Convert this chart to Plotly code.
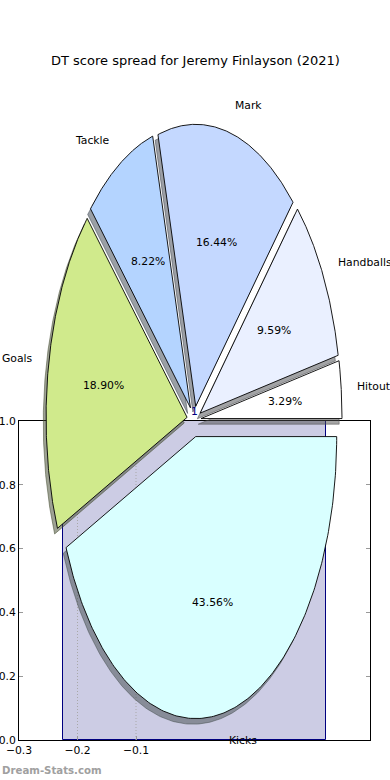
import numpy as np
import plotly.graph_objects as go

# ---------------- data ----------------
labels = ["Hitout", "Handballs", "Mark", "Tackle", "Goals", "Kicks"]
points = [12, 35, 60, 30, 69, 159]
explode = [0.05, 0.05, 0.05, 0.05, 0.05, 0.06]
colors = ["#ffffff", "#eaf0ff", "#c4d8ff", "#b4d4ff", "#d0ea8c", "#d9ffff"]

bar_x = [0.0]
bar_vals = [1.0]
bar_width = 0.45

x_ticks = [-0.3, -0.2, -0.1]
x_ticktext = ["\u22120.3", "\u22120.2", "\u22120.1"]
y_ticks = [0.0, 0.2, 0.4, 0.6, 0.8, 1.0]
y_ticktext = ["0.0", "0.2", "0.4", "0.6", "0.8", "1.0"]

title = "DT score spread for Jeremy Finlayson (2021)"
watermark = "Dream-Stats.com"

# ---------------- layout geometry (pixels) ----------------
W, H = 390, 780
ax_l, ax_r, ax_t, ax_b = 19, 370, 421, 740
cx, cy, rx, ry = 194, 420, 141, 282
FONT = "DejaVu Sans"
FS = 10.8


def hex2rgb(h):
    h = h.lstrip("#")
    return [int(h[i:i + 2], 16) for i in (0, 2, 4)]


fig = go.Figure()

# bar in main axes
fig.add_trace(go.Bar(
    x=bar_x, y=bar_vals, width=bar_width,
    marker=dict(color="#ccccE4", line=dict(color="#000080", width=1)),
    xaxis="x", yaxis="y", hoverinfo="skip", showlegend=False,
))
# dotted grid lines (drawn above bar, like matplotlib)
for xv in x_ticks[1:]:
    fig.add_trace(go.Scatter(
        x=[xv, xv], y=[y_ticks[0], y_ticks[-1]], mode="lines",
        line=dict(color="#a8a8a8", width=1, dash="1px,2px"),
        xaxis="x", yaxis="y", hoverinfo="skip", showlegend=False,
    ))

# pie wedges
total = float(sum(points))
shapes_data = []
theta = 0.0
for lab, val, ex, col in zip(labels, points, explode, colors):
    frac = val / total
    t1, t2 = theta, theta + 360.0 * frac
    theta = t2
    tm = np.deg2rad((t1 + t2) / 2.0)
    ox, oy = ex * np.cos(tm), ex * np.sin(tm)
    ts = np.deg2rad(np.linspace(t1, t2, 200))
    xs = np.concatenate([[ox], ox + np.cos(ts), [ox]])
    ys = np.concatenate([[oy], oy + np.sin(ts), [oy]])
    shapes_data.append((lab, frac, col, xs, ys, tm, ox, oy))

# shadows first
for lab, frac, col, xs, ys, tm, ox, oy in shapes_data:
    r, g, b = [int(0.3 * c) for c in hex2rgb(col)]
    sc = f"rgba({r},{g},{b},0.5)"
    fig.add_trace(go.Scatter(
        x=xs - 0.02, y=ys - 0.02, mode="lines", fill="toself",
        fillcolor=sc, line=dict(color=sc, width=1),
        xaxis="x2", yaxis="y2", hoverinfo="skip", showlegend=False,
    ))
# wedges
for lab, frac, col, xs, ys, tm, ox, oy in shapes_data:
    fig.add_trace(go.Scatter(
        x=xs, y=ys, mode="lines", fill="toself",
        fillcolor=col, line=dict(color="black", width=0.9),
        xaxis="x2", yaxis="y2", hoverinfo="skip", showlegend=False,
    ))

annotations = []
for lab, frac, col, xs, ys, tm, ox, oy in shapes_data:
    lx, ly = ox + 1.1 * np.cos(tm), oy + 1.1 * np.sin(tm)
    annotations.append(dict(
        x=lx, y=ly, xref="x2", yref="y2", text=lab, showarrow=False,
        xanchor="left" if lx > 0 else "right", yanchor="middle",
        font=dict(family=FONT, size=FS, color="black"),
    ))
    px, py = ox + 0.6 * np.cos(tm), oy + 0.6 * np.sin(tm)
    annotations.append(dict(
        x=px, y=py, xref="x2", yref="y2", text=f"{frac * 100:.2f}%",
        showarrow=False, xanchor="center", yanchor="middle",
        font=dict(family=FONT, size=FS, color="black"),
    ))

# bar value label
annotations.append(dict(
    x=bar_x[0], y=bar_vals[0], xref="x", yref="y", text=f"{bar_vals[0]:g}",
    showarrow=False, xanchor="center", yanchor="bottom", yshift=1,
    font=dict(family=FONT, size=FS, color="#000080"),
))
# title
annotations.append(dict(
    x=0.5, y=1 - 61 / H, xref="paper", yref="paper", text=title,
    showarrow=False, xanchor="center", yanchor="middle",
    font=dict(family=FONT, size=13, color="black"),
))
# watermark
annotations.append(dict(
    x=0, y=1 - 770 / H, xref="paper", yref="paper", text=f"<b>{watermark}</b>",
    showarrow=False, xanchor="left", yanchor="middle",
    font=dict(family=FONT, size=10.2, color="#a0a0a0"),
))

axis_common = dict(
    showline=True, linecolor="black", linewidth=1, mirror="allticks",
    ticks="inside", ticklen=4, tickcolor="#999999", tickwidth=1,
    showgrid=False, zeroline=False, layer="above traces", automargin=False,
    tickfont=dict(family=FONT, size=FS, color="black"),
)

fig.update_layout(
    width=W, height=H,
    margin=dict(l=0, r=0, t=0, b=0, autoexpand=False),
    paper_bgcolor="white", plot_bgcolor="rgba(0,0,0,0)",
    showlegend=False,
    bargap=0,
    xaxis=dict(domain=[ax_l / W, ax_r / W], range=[-0.3, 0.3],
               tickmode="array", tickvals=x_ticks, ticktext=x_ticktext,
               anchor="y", **axis_common),
    yaxis=dict(domain=[1 - ax_b / H, 1 - ax_t / H], range=[0, 1],
               tickmode="array", tickvals=y_ticks, ticktext=y_ticktext,
               anchor="x", **axis_common),
    xaxis2=dict(domain=[0, 1], range=[(0 - cx) / rx, (W - cx) / rx],
                visible=False, anchor="y2", fixedrange=True, automargin=False),
    yaxis2=dict(domain=[0, 1], range=[-(H - cy) / ry, cy / ry],
                visible=False, anchor="x2", fixedrange=True, automargin=False),
    annotations=annotations,
)

fig.write_html("out.html", config={"displayModeBar": False},
               post_script="document.body.style.margin='0';")
